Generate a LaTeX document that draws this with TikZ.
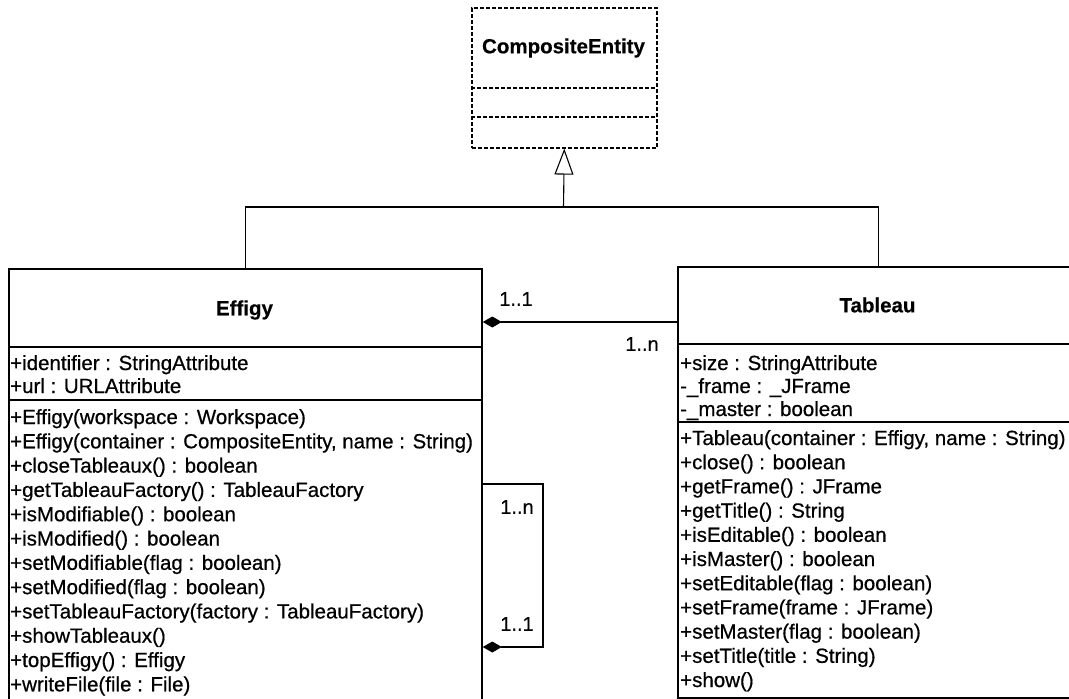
\documentclass[tikz,border=0pt]{standalone}
\usepackage{fontspec}
\setmainfont{Liberation Sans}
\newfontfamily\heavy{Liberation Sans}[RawFeature={embolden=0.6}]
\newfontfamily\ttlfont{Liberation Sans Bold}[RawFeature={embolden=0.4}]
\usetikzlibrary{arrows.meta}
\tikzset{
  classbox/.style={draw, line width=1.8pt, inner sep=0pt, anchor=north west},
  sep/.style={line width=1.5pt},
  row/.style={anchor=base west, inner sep=0pt, font=\fontsize{20.5}{24}\selectfont\heavy},
  ttl/.style={inner sep=0pt, font=\fontsize{20.5}{24}\selectfont\ttlfont},
  mult/.style={inner sep=0pt, font=\fontsize{20}{24}\selectfont\heavy},
  conn/.style={line width=1.1pt},
}
\begin{document}
\begin{tikzpicture}[x=1pt,y=-1pt]
\useasboundingbox (0,0) rectangle (1069,699);
% CompositeEntity
\node[classbox, dashed, dash pattern=on 4pt off 2pt, line width=1.6pt, minimum width=185pt, minimum height=140pt] (ce) at (471,7) {};
\draw[sep, dashed, dash pattern=on 4pt off 2pt] (471,88) -- (656,88);
\draw[sep, dashed, dash pattern=on 4pt off 2pt] (471,117) -- (656,117);
\node[ttl] (cet) at (563.5,48) {CompositeEntity};
% Effigy
\node[classbox, minimum width=473pt, minimum height=440pt] (effigy) at (8,268) {};
\draw[sep] (8,347) -- (481,347);
\draw[sep] (8,400) -- (481,400);
\node[ttl] (eft) at (244.5,310) {Effigy};
\foreach \t [count=\i from 0] in {{+identifier : StringAttribute},{+url : URLAttribute}}
  \node[row] (ea\i) at (10,370+\i*23) {\t};
\foreach \t [count=\i from 0] in {
  {+Effigy(workspace : Workspace)},
  {+Effigy(container : CompositeEntity, name : String)},
  {+closeTableaux() : boolean},
  {+getTableauFactory() : TableauFactory},
  {+isModifiable() : boolean},
  {+isModified() : boolean},
  {+setModifiable(flag : boolean)},
  {+setModified(flag : boolean)},
  {+setTableauFactory(factory : TableauFactory)},
  {+showTableaux()},
  {+topEffigy() : Effigy},
  {+writeFile(file : File)}}
  \node[row] (em\i) at (10,424+\i*24.3) {\t};
% Tableau
\node[classbox, minimum width=401pt, minimum height=431pt] (tableau) at (677,266) {};
\draw[sep] (677,344) -- (1078,344);
\draw[sep] (677,422) -- (1078,422);
\node[ttl] (tat) at (877.5,305) {Tableau};
\foreach \t [count=\i from 0] in {{+size : StringAttribute},{-\_frame : \_JFrame},{-\_master : boolean}}
  \node[row] (ta\i) at (680,370+\i*23) {\t};
\foreach \t [count=\i from 0] in {
  {+Tableau(container : Effigy, name : String)},
  {+close() : boolean},
  {+getFrame() : JFrame},
  {+getTitle() : String},
  {+isEditable() : boolean},
  {+isMaster() : boolean},
  {+setEditable(flag : boolean)},
  {+setFrame(frame : JFrame)},
  {+setMaster(flag : boolean)},
  {+setTitle(title : String)},
  {+show()}}
  \node[row] (tm\i) at (680,445+\i*24.2) {\t};
% generalization
\coordinate (j) at (563.5,207);
\draw[conn] (effigy.north) |- (j) -| (tableau.north);
\draw[conn, -{Triangle[open, length=26pt, width=19pt, line width=1.1pt]}] (j) -- (ce.south);
% association Effigy - Tableau
\coordinate (a1) at (0,322);
\draw[conn, {Diamond[length=19pt, width=11pt]}-] (effigy.east |- a1) -- (tableau.west |- a1);
\node[mult] (m1) at (516,299) {1..1};
\node[mult] (m2) at (642,344) {1..n};
% self association
\coordinate (s1) at (543,484);
\coordinate (s2) at (543,647);
\draw[conn, {Diamond[length=19pt, width=11pt]}-] (effigy.east |- s2) -- (s2) -- (s1) -- (effigy.east |- s1);
\node[mult] (m3) at (517,507) {1..n};
\node[mult] (m4) at (517,624) {1..1};
\end{tikzpicture}
\end{document}
